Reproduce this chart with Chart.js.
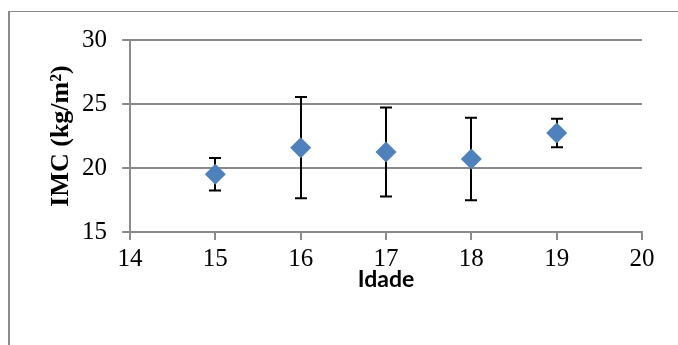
<!DOCTYPE html>
<html>
<head>
<meta charset="utf-8">
<script src="https://cdn.jsdelivr.net/npm/chart.js@4"></script>
<style>
  html, body { margin: 0; padding: 0; background: #fff; overflow: hidden; }
  #wrap { position: relative; width: 678px; height: 345px; }
  #frame { position: absolute; left: 8px; top: 11px; width: 700px; height: 400px;
           border-left: 2px solid #8a8a8a; border-top: 1px solid #8a8a8a; }
  canvas { position: absolute; left: 0; top: 0; }
</style>
</head>
<body>
<div id="wrap">
  <div id="frame"></div>
  <canvas id="c" width="678" height="345"></canvas>
</div>
<script>
// Age groups and BMI mean / standard deviation per group
const ages = [15, 16, 17, 18, 19];
const imcMean = [19.52, 21.59, 21.25, 20.70, 22.74];
const imcSD = [1.27, 3.96, 3.48, 3.22, 1.11];

const xTicks = [14, 15, 16, 17, 18, 19, 20];
const yTicks = [15, 20, 25, 30];

const yTitle = 'IMC (kg/m²)';
const xTitle = 'Idade';

const points = ages.map((a, i) => ({ x: a, y: imcMean[i] }));

// Vertical error bars (mean ± SD) with caps, drawn under the markers
const errorBars = {
  id: 'errorBars',
  beforeDatasetsDraw(chart) {
    const { ctx, scales: { x, y } } = chart;
    const cap = 6;
    ctx.save();
    ctx.strokeStyle = '#000';
    ctx.lineWidth = 2;
    ages.forEach((a, i) => {
      const px = Math.round(x.getPixelForValue(a));
      const yTop = y.getPixelForValue(imcMean[i] + imcSD[i]);
      const yBot = y.getPixelForValue(imcMean[i] - imcSD[i]);
      ctx.beginPath();
      ctx.moveTo(px, yTop); ctx.lineTo(px, yBot);
      ctx.moveTo(px - cap, yTop); ctx.lineTo(px + cap, yTop);
      ctx.moveTo(px - cap, yBot); ctx.lineTo(px + cap, yBot);
      ctx.stroke();
    });
    ctx.restore();
  }
};

// Rotated y-axis title, centred on the plot area
const yAxisTitle = {
  id: 'yAxisTitle',
  afterDraw(chart) {
    const { ctx, chartArea } = chart;
    ctx.save();
    ctx.translate(chartArea.left - 69, (chartArea.top + chartArea.bottom) / 2);
    ctx.rotate(-Math.PI / 2);
    ctx.fillStyle = '#000';
    ctx.font = 'bold 26px "Liberation Serif", serif';
    ctx.textAlign = 'center';
    ctx.textBaseline = 'middle';
    ctx.fillText(yTitle, 0, 0);
    ctx.restore();
  }
};

new Chart(document.getElementById('c'), {
  type: 'scatter',
  data: {
    datasets: [{
      data: points,
      pointStyle: 'rectRot',
      pointRadius: 10.5,
      pointHoverRadius: 10.5,
      backgroundColor: '#4f81bd',
      borderColor: '#4f81bd',
      borderWidth: 0
    }]
  },
  options: {
    responsive: false,
    devicePixelRatio: 1,
    animation: false,
    events: [],
    layout: { padding: { left: 0, right: 36, top: 40, bottom: 0 } },
    plugins: { legend: { display: false }, tooltip: { enabled: false } },
    scales: {
      x: {
        type: 'linear',
        min: 14, max: 20,
        afterFit(s) { s.height = 113; },
        afterBuildTicks(s) { s.ticks = xTicks.map(v => ({ value: v })); },
        grid: { drawOnChartArea: false, drawTicks: true, tickLength: 8, color: '#8a8a8a', lineWidth: 2 },
        border: { display: true, color: '#8a8a8a', width: 2 },
        ticks: { color: '#000', padding: 4, maxRotation: 0,
                 font: { family: '"Liberation Serif", serif', size: 25 } },
        title: { display: true, text: xTitle, color: '#000',
                 font: { family: 'Lato, sans-serif', size: 23, weight: 'bold' },
                 padding: { top: 0, bottom: 52 } }
      },
      y: {
        type: 'linear',
        min: 15, max: 30,
        afterFit(s) { s.width = 130; },
        afterBuildTicks(s) { s.ticks = yTicks.map(v => ({ value: v })); },
        grid: { drawOnChartArea: true, drawTicks: true, tickLength: 8, color: '#8a8a8a', lineWidth: 2 },
        border: { display: true, color: '#8a8a8a', width: 2 },
        ticks: { color: '#000', padding: 15,
                 font: { family: '"Liberation Serif", serif', size: 25 } }
      }
    }
  },
  plugins: [errorBars, yAxisTitle]
});
</script>
</body>
</html>
